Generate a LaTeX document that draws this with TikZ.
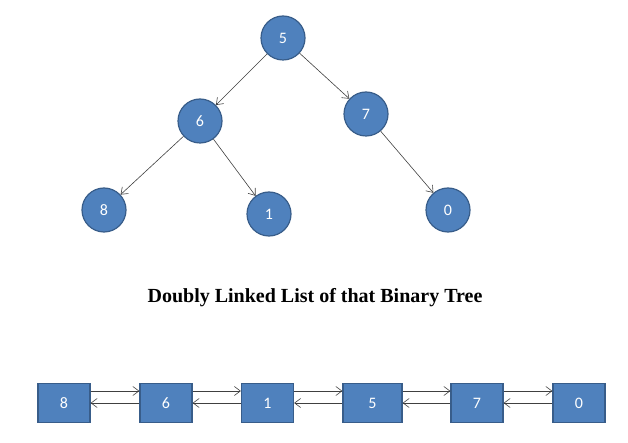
\documentclass[tikz,border=0pt]{standalone}
\usepackage{fontspec}
\setmainfont{Carlito}
\newfontfamily\titlefont{Liberation Serif}
\usetikzlibrary{arrows.meta}
\definecolor{nodefill}{HTML}{4F81BD}
\definecolor{nodeline}{HTML}{385D8A}
\tikzset{
  treenode/.style={circle, fill=nodefill, draw=nodeline, line width=1.2pt, minimum size=44pt, inner sep=0pt, text=white, font=\fontsize{16}{18}\selectfont},
  listnode/.style={rectangle, fill=nodefill, draw=nodeline, line width=1.2pt, minimum width=52pt, minimum height=39pt, inner sep=0pt, text=white, font=\fontsize{16}{18}\selectfont},
  link/.style={draw=black!75, line width=0.6pt, -{Straight Barb[length=6pt, width=9pt, line width=0.6pt]}}
}
\begin{document}
\begin{tikzpicture}[x=1pt, y=-1pt]
\useasboundingbox (0,0) rectangle (628,443);
\node[treenode] (t5) at (283,38) {5};
\node[treenode] (t6) at (200,121) {6};
\node[treenode] (t7) at (366,114) {7};
\node[treenode] (t8) at (104,210) {8};
\node[treenode] (t1) at (269,214) {1};
\node[treenode] (t0) at (448,210) {0};
\draw[link] (t5) -- (t6);
\draw[link] (t5) -- (t7);
\draw[link] (t6) -- (t8);
\draw[link] (t6) -- (t1);
\draw[link] (t7) -- (t0);
\node[font=\titlefont\bfseries\fontsize{20}{24}\selectfont] (title) at (315,298) {Doubly Linked List of that Binary Tree};
\node[listnode] (l8) at (64,403) {8};
\node[listnode] (l6) at (166,403) {6};
\node[listnode] (l1) at (267.5,403) {1};
\node[listnode, minimum width=59pt] (l5) at (372.5,403) {5};
\node[listnode] (l7) at (477,403) {7};
\node[listnode] (l0) at (579,403) {0};
\foreach \a/\b in {l8/l6, l6/l1, l1/l5, l5/l7, l7/l0}{
  \draw[link] ([yshift=12pt]\a.east) -- ([yshift=12pt]\b.west);
  \draw[link] (\b.west) -- (\a.east);
}
\end{tikzpicture}
\end{document}
